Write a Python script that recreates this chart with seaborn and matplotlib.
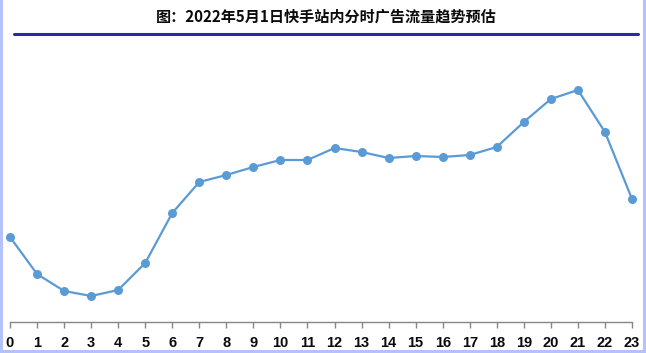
import matplotlib
matplotlib.use("Agg")
import matplotlib.pyplot as plt
import seaborn as sns
import pandas as pd
from matplotlib.patches import Rectangle
from matplotlib.lines import Line2D

hours = list(range(24))
traffic = [85, 48, 31, 26, 32, 59, 109, 140, 147, 155, 162, 162,
           174, 170, 164, 166, 165, 167, 175, 200, 223, 232, 190, 123]
title = "图：2022年5月1日快手站内分时广告流量趋势预估"

sns.set_theme(style="white")
plt.rcParams['font.family'] = ['Noto Sans CJK SC', 'DejaVu Sans']

W, H = 646, 353
fig = plt.figure(figsize=(W / 100, H / 100), dpi=100)
fig.patch.set_facecolor("white")

ax = fig.add_axes([10 / W, (H - 322) / H, (632 - 10) / W, (322 - 60) / H])
df = pd.DataFrame({"hour": hours, "traffic": traffic})
sns.lineplot(data=df, x="hour", y="traffic", ax=ax, color="#5b9bd5",
             marker="o", markersize=6.5, markeredgewidth=0, linewidth=1.6,
             clip_on=False)
for l in ax.lines:
    l.set_clip_on(False)

ax.set_xlim(0, 23)
ax.set_ylim(0, 262)
ax.set_xticks(hours)
ax.set_xticklabels([str(h) for h in hours], fontsize=10.5, fontweight="bold",
                   color="#0a0a0a", family=["Liberation Sans", "DejaVu Sans"])
ax.set_yticks([])
ax.set_xlabel("")
ax.set_ylabel("")
for s in ["top", "right", "left"]:
    ax.spines[s].set_visible(False)
ax.spines["bottom"].set_color("#868686")
ax.spines["bottom"].set_linewidth(1.0)
ax.tick_params(axis="x", which="both", bottom=True, length=4, width=1.0,
               color="#868686", pad=6)
ax.set_facecolor("none")

# title and rule
fig.text(326 / W, 1 - 17 / H, title, ha="center", va="center",
         fontsize=10.9, fontweight="bold", color="#0a0a0a")
fig.add_artist(Line2D([14 / W, 638 / W], [1 - 34 / H, 1 - 34 / H],
                      color="#2b2ba0", linewidth=2.2, transform=fig.transFigure))

# light-blue frame strips
fc = "#b3c2fb"
fig.add_artist(Rectangle((0, 0), 2.5 / W, 1, transform=fig.transFigure,
                         color=fc, lw=0))
fig.add_artist(Rectangle((1 - 3 / W, 0), 3 / W, 1, transform=fig.transFigure,
                         color=fc, lw=0))
fig.add_artist(Rectangle((0, 0), 1, 3 / H, transform=fig.transFigure,
                         color=fc, lw=0))

fig.savefig("out.png", dpi=100, facecolor="white")
